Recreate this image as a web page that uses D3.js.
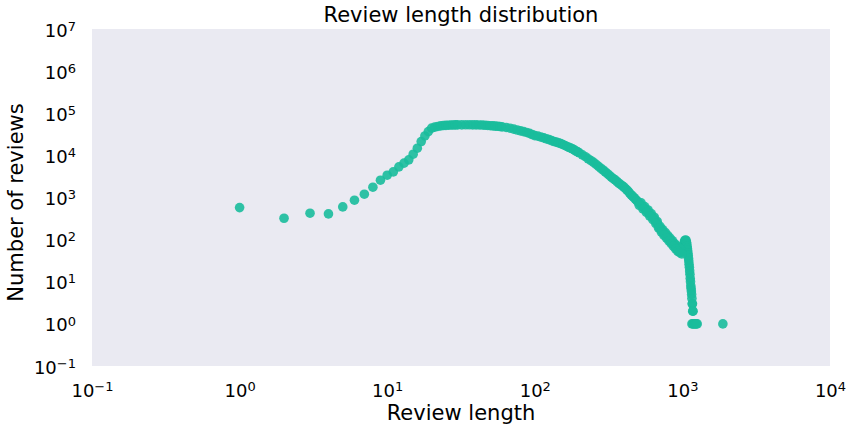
<!DOCTYPE html>
<html>
<head>
<meta charset="utf-8">
<script src="https://cdn.jsdelivr.net/npm/d3@7"></script>
<style>
  body { margin: 0; background: #fff; }
  svg text { font-family: "DejaVu Sans", Verdana, sans-serif; fill: #000; }
</style>
</head>
<body>
<svg id="chart" width="853" height="431"></svg>
<script>
// Review length (words) and number of reviews
const lengths = [
  1,2,3,4,5,6,7,8,9,10,11,12,13,14,15,16,17,18,19,20,21,22,23,24,25,26,27,28,29,30,
  32,34,36,38,40,42,44,46,48,50,52,54,56,58,60,
  64,68,72,76,80,84,88,92,96,100,
  105,110,115,120,125,130,135,140,145,150,155,160,165,170,175,180,185,190,195,200,
  210,220,230,240,250,260,270,280,290,300,310,320,330,340,350,360,370,380,390,400,
  410,420,430,440,450,460,470,480,490,500,
  520,540,560,580,600,620,640,660,680,700,720,740,760,780,800,820,840,860,880,900,
  920,940,960,980,1000,1010,1020,1030,1040,1050,
  1060,1065,1070,1075,1080,1085,1090,1095,1100,1105,1110,1115,1120,1125,1130,1135,
  1140,1145,1150,1155,1160,1165,1170,1175,1180,
  1160,1180,1200,1220,1240,1260,1880,
  // upper edge of the scattered tail
  525,555,585,615,645,675,705,735,765,795,825,855,885,915,945,975,
  // lower edge of the scattered tail
  510,540,570,600,630,660,690,720,750,780,810,840,870,900,930,960,990
];
const counts = [
  575,322,424,408,598,863,1197,1757,2576,3388,4057,5334,6530,7820,10670,14800,21270,28900,36700,44300,
  46800,48600,50200,51000,51600,52100,52500,52600,53000,53000,
  53100,53200,53200,53100,53000,52800,52400,51900,51300,50700,50100,49600,49100,48300,47500,
  46000,44200,42000,40000,38200,36600,35000,33300,31300,29500,
  28700,27300,26000,24700,23600,22400,21300,20600,19800,19100,18100,17200,16300,15600,14900,14300,13500,12700,12100,11500,
  10300,9300,8300,7500,6820,6100,5500,4950,4500,4060,3700,3350,3050,2800,2620,2400,2200,2050,1920,1790,
  1650,1520,1390,1260,1150,1070,990,920,850,787,
  690,600,530,465,408,360,315,270,230,190,170,150,135,122,110,100,90,82,74,67,
  62,58,55,52,51,60,75,88,95,98,
  95,85,80,70,62,55,48,42,36,31,26,22,18,15,12,10,
  8,7,6,5,4,3,3,2,2,
  1,1,1,1,1,1,1,
  745,610,505,415,340,270,207,173,148,126,109,94,81,71,64,59,
  655,535,442,363,300,240,187,151,126,109,93,80,69,60,53,49,46
];
const xTicks = [-1, 0, 1, 2, 3, 4];
const yTicks = [-1, 0, 1, 2, 3, 4, 5, 6, 7];
const titleText = "Review length distribution";
const xLabel = "Review length";
const yLabel = "Number of reviews";

const points = lengths.map((d, i) => ({ len: d, n: counts[i] }));

const svg = d3.select("#chart");
const mLeft = 92, mRight = 830, mTop = 29, mBottom = 366;

const x = d3.scaleLog().domain([0.1, 10000]).range([mLeft, mRight]);
const y = d3.scaleLog().domain([0.1, 1e7]).range([mBottom, mTop]);

svg.append("rect")
  .attr("x", mLeft).attr("y", mTop)
  .attr("width", mRight - mLeft).attr("height", mBottom - mTop)
  .attr("fill", "#eaeaf2");

function supLabel(sel, e) {
  sel.text(null);
  sel.append("tspan").text("10");
  sel.append("tspan")
    .attr("dy", "-0.45em")
    .attr("font-size", "13px")
    .text(e < 0 ? "\u2212" + Math.abs(e) : String(e));
}

// X axis
const xAxis = svg.append("g")
  .attr("transform", `translate(0,${mBottom})`)
  .call(d3.axisBottom(x).tickValues(xTicks.map(e => Math.pow(10, e))).tickSize(0).tickFormat(""));
xAxis.select(".domain").remove();
xAxis.selectAll(".tick").each(function(d, i) {
  const t = d3.select(this).append("text")
    .attr("x", 0).attr("y", 31)
    .attr("text-anchor", "middle")
    .attr("font-size", "18px");
  supLabel(t, xTicks[i]);
});

// Y axis
const yAxis = svg.append("g")
  .attr("transform", `translate(${mLeft},0)`)
  .call(d3.axisLeft(y).tickValues(yTicks.map(e => Math.pow(10, e))).tickSize(0).tickFormat(""));
yAxis.select(".domain").remove();
yAxis.selectAll(".tick").each(function(d, i) {
  const t = d3.select(this).append("text")
    .attr("x", -16).attr("y", 7)
    .attr("text-anchor", "end")
    .attr("font-size", "18px");
  supLabel(t, yTicks[i]);
});

// Points
svg.append("g")
  .selectAll("circle")
  .data(points)
  .join("circle")
  .attr("cx", d => x(d.len))
  .attr("cy", d => y(d.n))
  .attr("r", 4.8)
  .attr("fill", "#1abc9c")
  .attr("fill-opacity", 0.9);

// Title and labels
svg.append("text")
  .attr("x", (mLeft + mRight) / 2).attr("y", 22)
  .attr("text-anchor", "middle")
  .attr("font-size", "21px")
  .text(titleText);

svg.append("text")
  .attr("x", (mLeft + mRight) / 2).attr("y", 420)
  .attr("text-anchor", "middle")
  .attr("font-size", "21px")
  .text(xLabel);

svg.append("text")
  .attr("transform", `translate(23,${(mTop + mBottom) / 2 + 5}) rotate(-90)`)
  .attr("text-anchor", "middle")
  .attr("font-size", "21px")
  .text(yLabel);
</script>
</body>
</html>
